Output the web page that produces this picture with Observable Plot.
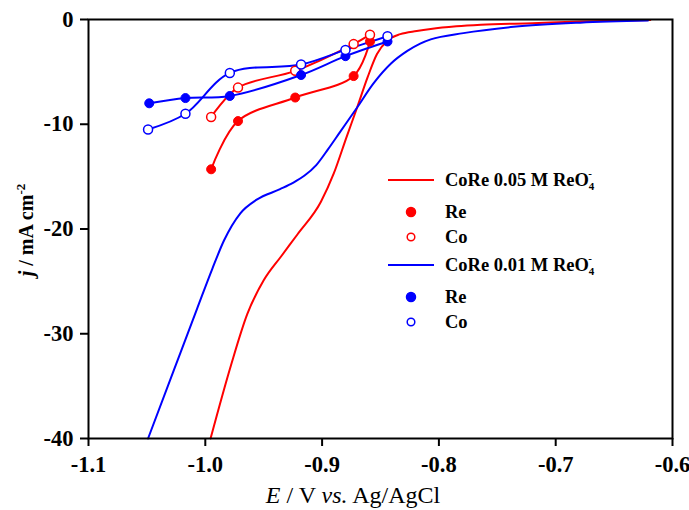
<!DOCTYPE html>
<html>
<head>
<meta charset="utf-8">
<script src="https://cdn.jsdelivr.net/npm/d3@7"></script>
<script src="https://cdn.jsdelivr.net/npm/@observablehq/plot@0.6"></script>
<style>
  html, body { margin: 0; padding: 0; background: #fff; }
  #chart { width: 689px; height: 510px; position: relative; }
  #chart svg g[aria-label="x-axis tick label"] text,
  #chart svg g[aria-label="y-axis tick label"] text { font-size: 22.5px; font-weight: bold; }
</style>
</head>
<body>
<div id="chart"></div>
<script>
// ---- Data (E in V vs Ag/AgCl, j in mA cm^-2) ----
const xTicks = [-1.1, -1.0, -0.9, -0.8, -0.7, -0.6];
const yTicks = [0, -10, -20, -30, -40];

// CoRe 0.05 M ReO4- polarization curve
const curve005 = [
  [-0.9955, -40], [-0.978, -33.0], [-0.964, -28.1], [-0.950, -24.9],
  [-0.935, -22.6], [-0.921, -20.5], [-0.901, -17.4], [-0.890, -14.7], [-0.879, -11.2],
  [-0.870, -8.4], [-0.861, -5.5], [-0.853, -3.3], [-0.844, -2.0], [-0.833, -1.4],
  [-0.819, -1.1], [-0.807, -0.9], [-0.785, -0.65], [-0.764, -0.5], [-0.720, -0.35],
  [-0.679, -0.2], [-0.619, -0.05]
];
// CoRe 0.01 M ReO4- polarization curve
const curve001 = [
  [-1.049, -40], [-1.027, -33.5], [-1.007, -27.6], [-0.994, -23.8], [-0.984, -21.1],
  [-0.970, -18.5], [-0.956, -17.2], [-0.936, -16.2], [-0.925, -15.6], [-0.915, -14.9],
  [-0.905, -13.9], [-0.895, -12.4], [-0.885, -10.8], [-0.870, -8.4], [-0.856, -6.1],
  [-0.841, -4.2], [-0.827, -3.0], [-0.816, -2.3], [-0.807, -1.9], [-0.779, -1.3],
  [-0.736, -0.7], [-0.679, -0.3], [-0.621, -0.1]
];
// Partial current densities
const re005 = [[-0.995, -14.3], [-0.972, -9.7], [-0.923, -7.45], [-0.873, -5.4], [-0.859, -2.1]];
const co005 = [[-0.995, -9.3], [-0.972, -6.5], [-0.923, -4.9], [-0.873, -2.35], [-0.859, -1.45]];
const re001 = [[-1.048, -8.0], [-1.017, -7.5], [-0.979, -7.3], [-0.918, -5.3], [-0.880, -3.5], [-0.844, -2.1]];
const co001 = [[-1.049, -10.5], [-1.017, -9.0], [-0.979, -5.1], [-0.918, -4.3], [-0.880, -2.9], [-0.844, -1.6]];

const RED = "#ff0000", BLUE = "#0000ff";
const FONT = "'Liberation Serif', 'Times New Roman', serif";

const fx = d => d[0], fy = d => d[1];

const plot = Plot.plot({
  width: 689,
  height: 510,
  marginLeft: 88,
  marginRight: 17,
  marginTop: 19,
  marginBottom: 72,
  style: { fontFamily: FONT, fontSize: "22.5px", background: "white", overflow: "visible" },
  x: { domain: [-1.1, -0.6], label: null },
  y: { domain: [-40, 0], label: null },
  marks: [
    Plot.line(curve005, { x: fx, y: fy, stroke: RED, strokeWidth: 2, curve: "monotone-x" }),
    Plot.line(curve001, { x: fx, y: fy, stroke: BLUE, strokeWidth: 2, curve: "monotone-x" }),
    Plot.line(re005, { x: fx, y: fy, stroke: RED, strokeWidth: 2, curve: "catmull-rom" }),
    Plot.line(co005, { x: fx, y: fy, stroke: RED, strokeWidth: 2, curve: "catmull-rom" }),
    Plot.line(re001, { x: fx, y: fy, stroke: BLUE, strokeWidth: 2, curve: "catmull-rom" }),
    Plot.line(co001, { x: fx, y: fy, stroke: BLUE, strokeWidth: 2, curve: "catmull-rom" }),
    Plot.dot(re005, { x: fx, y: fy, r: 4.5, fill: RED, stroke: RED, strokeWidth: 1 }),
    Plot.dot(co005, { x: fx, y: fy, r: 4.5, fill: "white", stroke: RED, strokeWidth: 1.5 }),
    Plot.dot(re001, { x: fx, y: fy, r: 4.5, fill: BLUE, stroke: BLUE, strokeWidth: 1 }),
    Plot.dot(co001, { x: fx, y: fy, r: 4.5, fill: "white", stroke: BLUE, strokeWidth: 1.5 }),
    Plot.frame({ stroke: "black", strokeWidth: 2 }),
    Plot.axisX({ ticks: xTicks, tickFormat: d => d.toFixed(1), tickSize: 8, tickPadding: 10,
      strokeWidth: 2, fontSize: 22.5, fontWeight: "bold", fill: "black", stroke: "black", label: null }),
    Plot.axisY({ ticks: yTicks, tickFormat: d => String(d), tickSize: 8, tickPadding: 7,
      strokeWidth: 2, fontSize: 22.5, fontWeight: "bold", fill: "black", stroke: "black", label: null })
  ]
});

document.getElementById("chart").appendChild(plot);

// ---- Axis titles and legend (text) ----
const svg = d3.select(plot);

const xl = svg.append("text")
  .attr("x", 353).attr("y", 503)
  .attr("text-anchor", "middle")
  .style("font-family", FONT).style("font-size", "24px").attr("fill", "black");
xl.append("tspan").attr("font-style", "italic").text("E");
xl.append("tspan").text(" / V ");
xl.append("tspan").attr("font-style", "italic").text("vs.");
xl.append("tspan").text(" Ag/AgCl");

const yl = svg.append("text")
  .attr("transform", "translate(33,230) rotate(-90)")
  .attr("text-anchor", "middle")
  .style("font-family", FONT).style("font-size", "20px").attr("font-weight", "bold").attr("fill", "black");
yl.append("tspan").attr("font-style", "italic").text("j");
yl.append("tspan").text(" / mA cm");
yl.append("tspan").attr("dy", -8).style("font-size", "13px").text("-2");

// Legend
const legendItems = [
  { type: "line", color: RED, y: 180, label: "CoRe 0.05 M ReO", ion: true },
  { type: "filled", color: RED, y: 212, label: "Re" },
  { type: "open", color: RED, y: 237, label: "Co" },
  { type: "line", color: BLUE, y: 265, label: "CoRe 0.01 M ReO", ion: true },
  { type: "filled", color: BLUE, y: 297, label: "Re" },
  { type: "open", color: BLUE, y: 322, label: "Co" }
];
const lg = svg.append("g").attr("text-anchor", "start");
for (const it of legendItems) {
  if (it.type === "line") {
    lg.append("line").attr("x1", 388).attr("x2", 434).attr("y1", it.y).attr("y2", it.y)
      .attr("stroke", it.color).attr("stroke-width", 2);
  } else {
    lg.append("circle").attr("cx", 411).attr("cy", it.y).attr("r", it.type === "filled" ? 4.5 : 3.8)
      .attr("fill", it.type === "filled" ? it.color : "white")
      .attr("stroke", it.color).attr("stroke-width", 1.5);
  }
  const t = lg.append("text").attr("x", 445).attr("y", it.y + 6).attr("text-anchor", "start")
    .style("font-family", FONT).style("font-size", "18.5px").attr("font-weight", "bold").attr("fill", "black");
  t.append("tspan").text(it.label);
  if (it.ion) {
    t.append("tspan").attr("dy", 4).style("font-size", "11px").text("4");
    t.append("tspan").attr("dx", -6).attr("dy", -13).style("font-size", "11px").text("-");
  }
}
</script>
</body>
</html>
